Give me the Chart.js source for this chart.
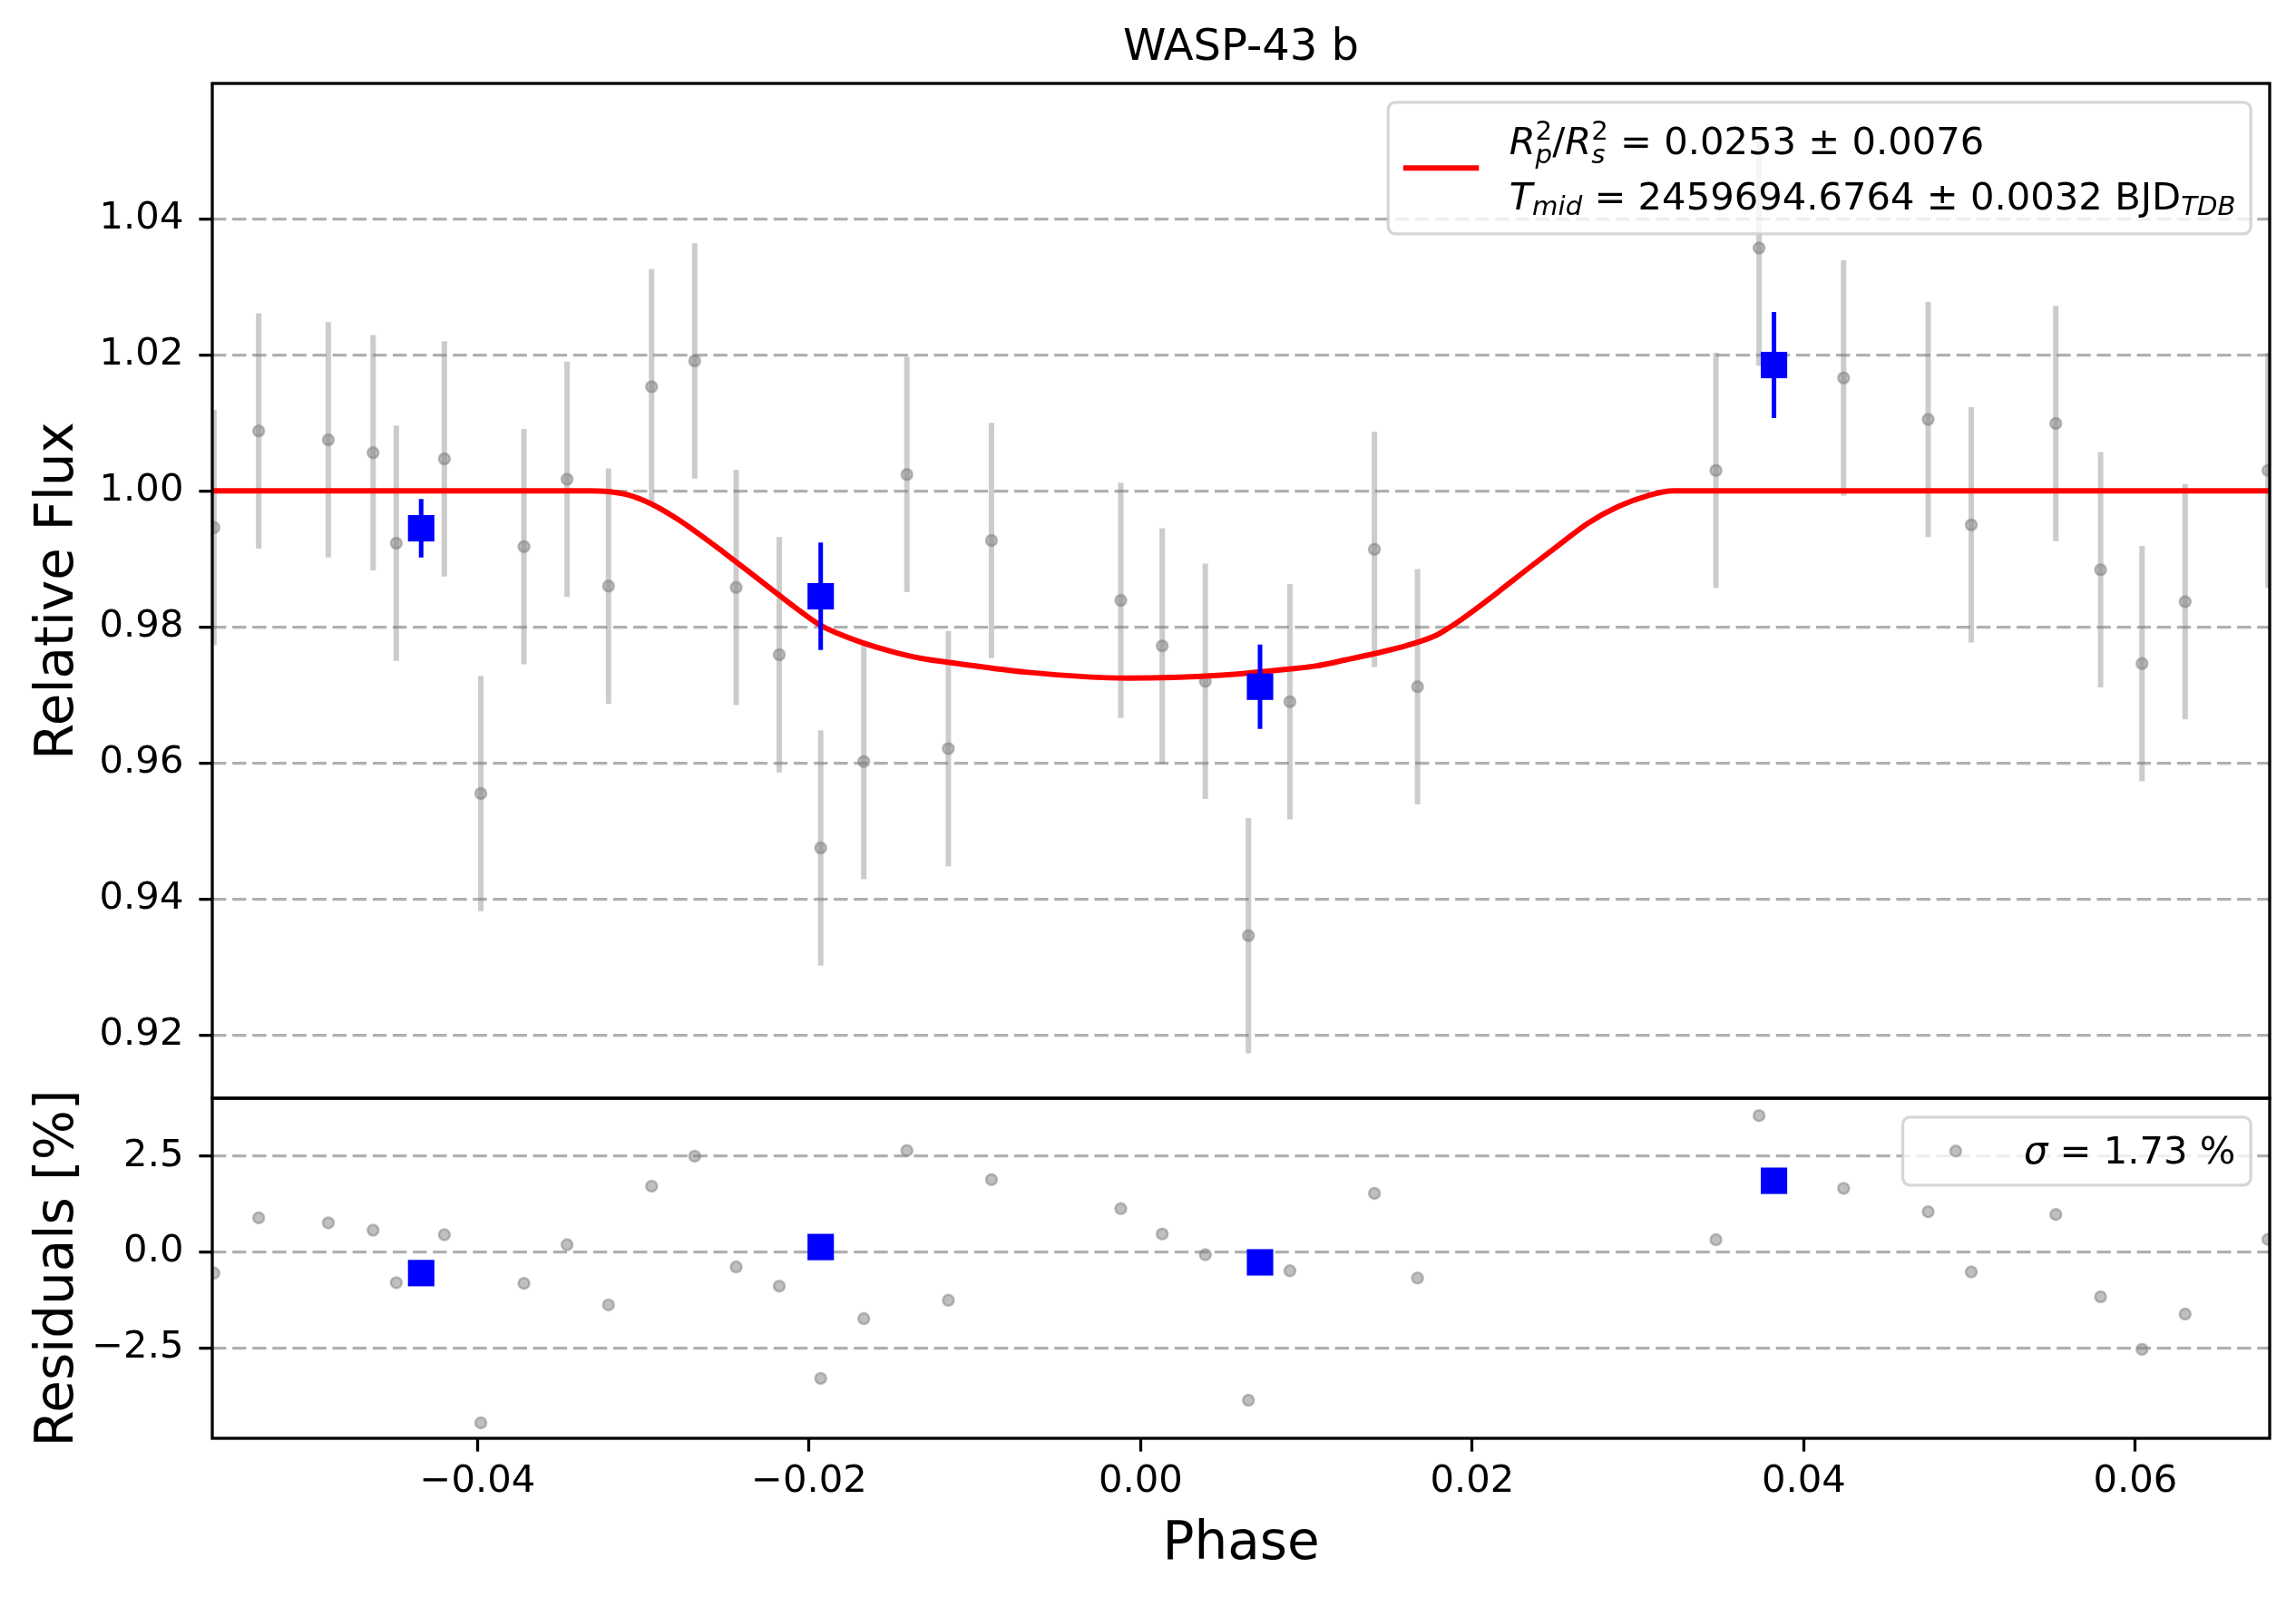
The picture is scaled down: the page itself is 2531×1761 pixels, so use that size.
<!DOCTYPE html>
<html>
<head>
<meta charset="utf-8">
<script src="https://cdn.jsdelivr.net/npm/chart.js@4.4.1/dist/chart.umd.min.js"></script>
<style>
  html, body { margin: 0; padding: 0; background: #fff; }
  #wrap { width: 2531px; height: 1761px; position: relative; }
</style>
</head>
<body>
<div id="wrap"><canvas id="lc"></canvas></div>
<script>
// unbinned points (phase, relative flux, error, residual in %)
const phase = [-0.0559, -0.0532, -0.0490, -0.0463, -0.0449, -0.0420, -0.0398, -0.0372, -0.0346, -0.0321,
  -0.0295, -0.0269, -0.0244, -0.0218, -0.0193, -0.0167, -0.0141, -0.0116, -0.0090, -0.0012,
  0.0013, 0.0039, 0.0065, 0.0090, 0.0141, 0.0167, 0.0347, 0.0373, 0.0424, 0.0475,
  0.0501, 0.0552, 0.0579, 0.0604, 0.0630, 0.0680];
const flux = [0.9946, 1.0088, 1.0075, 1.0056, 0.9923, 1.0047, 0.9555, 0.9918, 1.0017, 0.9860,
  1.0153, 1.0191, 0.9858, 0.9759, 0.9475, 0.9602, 1.0024, 0.9621, 0.9927, 0.9839,
  0.9772, 0.9720, 0.9346, 0.9690, 0.9914, 0.9712, 1.0030, 1.0357, 1.0166, 1.0105,
  0.9950, 1.0099, 0.9884, 0.9746, 0.9837, 1.0030];
const fluxErr = [0.0173, 0.0173, 0.0173, 0.0173, 0.0173, 0.0173, 0.0173, 0.0173, 0.0173, 0.0173,
  0.0173, 0.0173, 0.0173, 0.0173, 0.0173, 0.0173, 0.0173, 0.0173, 0.0173, 0.0173,
  0.0173, 0.0173, 0.0173, 0.0173, 0.0173, 0.0173, 0.0173, 0.0173, 0.0173, 0.0173,
  0.0173, 0.0173, 0.0173, 0.0173, 0.0173, 0.0173];
const residuals = [-0.55, 0.89, 0.76, 0.57, -0.80, 0.45, -4.46, -0.82, 0.19, -1.38,
  1.72, 2.50, -0.39, -0.89, -3.30, -1.74, 2.65, -1.26, 1.89, 1.13,
  0.47, -0.07, -3.87, -0.49, 1.53, -0.68, 0.32, 3.56, 1.66, 1.05,
  -0.52, 0.98, -1.17, -2.54, -1.62, 0.33];

// binned points
const binPhase = [-0.0434, -0.0193, 0.0072, 0.0382];
const binFlux = [0.9945, 0.9845, 0.9712, 1.0185];
const binErr = [0.0043, 0.0079, 0.0062, 0.0078];
const binResid = [-0.55, 0.13, -0.27, 1.86];

// transit model
const modelPhase = [-0.0560, -0.03322, -0.03213, -0.03103, -0.02957, -0.02812, -0.02666, -0.02519, -0.02374, -0.02228,
  -0.02082, -0.01936, -0.01826, -0.01680, -0.01498, -0.01315, -0.01133, -0.00693, -0.00074, 0.00486,
  0.00928, 0.01056, 0.01239, 0.01421, 0.01604, 0.01786, 0.01877, 0.01969, 0.02151, 0.02333,
  0.02516, 0.02698, 0.02881, 0.03063, 0.03209, 0.0681];
const modelFlux = [1.0, 1.0, 0.99991, 0.99947, 0.99813, 0.99613, 0.99369, 0.99103, 0.98833, 0.98556,
  0.98282, 0.98030, 0.97903, 0.97769, 0.97636, 0.97533, 0.97471, 0.97335, 0.97247, 0.97291,
  0.97388, 0.97425, 0.97516, 0.97613, 0.97724, 0.97880, 0.98013, 0.98169, 0.98503, 0.98850,
  0.99191, 0.99524, 0.99769, 0.99933, 1.0, 1.0];

// axes
const phaseTicks = [-0.04, -0.02, 0.00, 0.02, 0.04, 0.06];
const fluxTicks = [0.92, 0.94, 0.96, 0.98, 1.00, 1.02, 1.04];
const residTicks = [-2.5, 0.0, 2.5];

const titleText = 'WASP-43 b';
const depthLabel = ' = 0.0253 \u00b1 0.0076';
const tmidLabel = ' = 2459694.6764 \u00b1 0.0032 BJD';
const sigmaLabel = ' = 1.73 %';

const EM = 41.7;
const GRAY_FILL = 'rgba(128,128,128,0.5)';

function signed(v, d) {
    return (v < -1e-9 ? '\u2212' : '') + Math.abs(v).toFixed(d);
}

function errorSegments(xs, ys, es) {
    const pts = [];
    xs.forEach((x, i) => {
        pts.push({ x: x, y: ys[i] - es[i] }, { x: x, y: ys[i] + es[i] }, { x: x, y: null });
    });
    return pts;
}

function pairs(xs, ys) {
    return xs.map((x, i) => ({ x: x, y: ys[i] }));
}

// little mathtext-like layout: runs with italic / sup / sub
function runFont(r) {
    const size = r.script ? EM * 0.7 : EM;
    return (r.italic ? 'italic ' : '') + size + 'px "DejaVu Sans"';
}

function layoutRuns(ctx, runs, x0, base, draw) {
    let x = x0, prevStart = x0, prevEnd = x0;
    runs.forEach(r => {
        ctx.font = runFont(r);
        const w = ctx.measureText(r.text).width;
        const start = r.stack ? prevStart : x;
        let dy = 0;
        if (r.script === 'sup') dy = -0.37 * EM;
        if (r.script === 'sub') dy = r.deep ? 0.25 * EM : 0.15 * EM;
        if (draw) ctx.fillText(r.text, start, base + dy);
        if (r.stack) {
            x = Math.max(prevEnd, start + w);
        } else {
            prevStart = start;
            prevEnd = start + w;
            x = prevEnd;
        }
    });
    return x - x0;
}

function legendBox(ctx, left, top, w, h) {
    const r = 8;
    ctx.beginPath();
    ctx.moveTo(left + r, top);
    ctx.arcTo(left + w, top, left + w, top + h, r);
    ctx.arcTo(left + w, top + h, left, top + h, r);
    ctx.arcTo(left, top + h, left, top, r);
    ctx.arcTo(left, top, left + w, top, r);
    ctx.closePath();
    ctx.fillStyle = 'rgba(255,255,255,0.8)';
    ctx.fill();
    ctx.lineWidth = 3.3;
    ctx.strokeStyle = 'rgba(204,204,204,0.8)';
    ctx.stroke();
}

const line1 = [
    { text: 'R', italic: true },
    { text: '2', script: 'sup' },
    { text: 'p', italic: true, script: 'sub', stack: true, deep: true },
    { text: '/' },
    { text: 'R', italic: true },
    { text: '2', script: 'sup' },
    { text: 's', italic: true, script: 'sub', stack: true, deep: true },
    { text: depthLabel }
];
const line2 = [
    { text: 'T', italic: true },
    { text: 'mid', italic: true, script: 'sub' },
    { text: tmidLabel },
    { text: 'TDB', italic: true, script: 'sub' }
];
const sigmaLine = [
    { text: '\u03c3', italic: true },
    { text: sigmaLabel }
];

const framesAndLegends = {
    id: 'framesAndLegends',
    afterDatasetsDraw(chart) {
        const ctx = chart.ctx;
        const area = chart.chartArea;
        const top = chart.scales.yTop;
        const bot = chart.scales.yBot;
        const pad = 0.4 * EM, handle = 2 * EM, gap = 0.8 * EM, inset = 0.5 * EM;

        ctx.save();
        ctx.strokeStyle = '#000';
        ctx.lineWidth = 3.3;
        ctx.strokeRect(area.left, top.top, area.right - area.left, top.bottom - top.top);
        ctx.strokeRect(area.left, bot.top, area.right - area.left, bot.bottom - bot.top);

        // upper legend: model fit
        const tw = Math.max(layoutRuns(ctx, line1, 0, 0, false), layoutRuns(ctx, line2, 0, 0, false));
        const w1 = pad + handle + gap + tw + pad;
        const h1 = 145;
        const l1 = area.right - inset - w1;
        const t1 = top.top + inset;
        legendBox(ctx, l1, t1, w1, h1);
        ctx.strokeStyle = '#ff0000';
        ctx.lineWidth = 6;
        ctx.beginPath();
        ctx.moveTo(l1 + pad, t1 + h1 / 2);
        ctx.lineTo(l1 + pad + handle, t1 + h1 / 2);
        ctx.stroke();
        ctx.fillStyle = '#000';
        ctx.textBaseline = 'alphabetic';
        ctx.textAlign = 'left';
        layoutRuns(ctx, line1, l1 + pad + handle + gap, t1 + 57, true);
        layoutRuns(ctx, line2, l1 + pad + handle + gap, t1 + 118, true);

        // lower legend: scatter of residuals
        const sw = layoutRuns(ctx, sigmaLine, 0, 0, false);
        const w2 = pad + handle + gap + sw + pad;
        const h2 = 75;
        const l2 = area.right - inset - w2;
        const t2 = bot.top + inset;
        legendBox(ctx, l2, t2, w2, h2);
        ctx.beginPath();
        ctx.arc(l2 + pad + handle / 2, t2 + h2 / 2, 6, 0, Math.PI * 2);
        ctx.fillStyle = GRAY_FILL;
        ctx.fill();
        ctx.lineWidth = 2.5;
        ctx.strokeStyle = GRAY_FILL;
        ctx.stroke();
        ctx.fillStyle = '#000';
        layoutRuns(ctx, sigmaLine, l2 + pad + handle + gap, t2 + 51, true);
        ctx.restore();
    }
};

document.addEventListener('DOMContentLoaded', () => {
    Chart.defaults.font.family = "'DejaVu Sans', sans-serif";
    Chart.defaults.color = '#000';

    const tickFont = { size: EM };
    const labelFont = { size: 58 };

    new Chart(document.getElementById('lc'), {
        type: 'scatter',
        data: {
            datasets: [
                {
                    type: 'line', label: 'errors', data: errorSegments(phase, flux, fluxErr), yAxisID: 'yTop',
                    borderColor: 'rgba(128,128,128,0.4)', borderWidth: 6, pointRadius: 0, spanGaps: false, order: 5
                },
                {
                    label: 'data', data: pairs(phase, flux), yAxisID: 'yTop',
                    backgroundColor: GRAY_FILL, borderColor: GRAY_FILL, borderWidth: 2.5, pointRadius: 6, order: 4
                },
                {
                    type: 'line', label: 'model', data: pairs(modelPhase, modelFlux), yAxisID: 'yTop',
                    borderColor: '#ff0000', borderWidth: 6, pointRadius: 0, cubicInterpolationMode: 'monotone', order: 3
                },
                {
                    type: 'line', label: 'binned errors', data: errorSegments(binPhase, binFlux, binErr), yAxisID: 'yTop',
                    borderColor: '#0000ff', borderWidth: 5, pointRadius: 0, spanGaps: false, order: 2
                },
                {
                    label: 'binned', data: pairs(binPhase, binFlux), yAxisID: 'yTop',
                    pointStyle: 'rect', pointRadius: 20.6, backgroundColor: '#0000ff', borderWidth: 0, order: 1
                },
                {
                    label: 'residuals', data: pairs(phase, residuals), yAxisID: 'yBot',
                    backgroundColor: GRAY_FILL, borderColor: GRAY_FILL, borderWidth: 2.5, pointRadius: 6, order: 4
                },
                {
                    label: 'binned residuals', data: pairs(binPhase, binResid), yAxisID: 'yBot',
                    pointStyle: 'rect', pointRadius: 20.6, backgroundColor: '#0000ff', borderWidth: 0, order: 1
                }
            ]
        },
        options: {
            responsive: true,
            maintainAspectRatio: false,
            devicePixelRatio: 1,
            animation: false,
            events: [],
            layout: { padding: { left: 0, right: 29, top: 0, bottom: 0 } },
            plugins: {
                legend: { display: false },
                tooltip: { enabled: false },
                title: {
                    display: true, text: titleText, fullSize: false, color: '#000',
                    font: { size: 48, weight: 'normal' },
                    padding: { top: 25, bottom: 9.4 }
                }
            },
            scales: {
                x: {
                    type: 'linear', min: -0.056, max: 0.0681,
                    afterBuildTicks: s => { s.ticks = phaseTicks.map(v => ({ value: v })); },
                    afterFit: s => { s.height = 175; },
                    ticks: { font: tickFont, color: '#000', padding: 8.4, maxRotation: 0, autoSkip: false, callback: v => signed(v, 2) },
                    grid: { drawOnChartArea: false, tickLength: 14.6, tickWidth: 3.3, tickColor: '#000', tickBorderDash: [] },
                    border: { display: false },
                    title: { display: true, text: 'Phase', font: labelFont, color: '#000', padding: { top: 0, bottom: 22 } }
                },
                yTop: {
                    type: 'linear', position: 'left', stack: 'panels', stackWeight: 1119, weight: 2,
                    min: 0.9107, max: 1.0599,
                    afterBuildTicks: s => { s.ticks = fluxTicks.map(v => ({ value: v })); },
                    afterFit: s => { s.width = 234; },
                    ticks: { font: tickFont, color: '#000', padding: 17, autoSkip: false, callback: v => signed(v, 2) },
                    grid: { color: '#b0b0b0', lineWidth: 3.3, tickLength: 14.6, tickWidth: 3.3, tickColor: '#000', tickBorderDash: [] },
                    border: { display: false, dash: [15.4, 6.7] },
                    title: { display: true, text: 'Relative Flux', font: labelFont, color: '#000', padding: { top: 30, bottom: 0 } }
                },
                yBot: {
                    type: 'linear', position: 'left', stack: 'panels', stackWeight: 375, weight: 1,
                    min: -4.863, max: 4.015,
                    afterBuildTicks: s => { s.ticks = residTicks.map(v => ({ value: v })); },
                    afterFit: s => { s.width = 234; },
                    ticks: { font: tickFont, color: '#000', padding: 17, autoSkip: false, callback: v => signed(v, 1) },
                    grid: { color: '#b0b0b0', lineWidth: 3.3, tickLength: 14.6, tickWidth: 3.3, tickColor: '#000', tickBorderDash: [] },
                    border: { display: false, dash: [15.4, 6.7] },
                    title: { display: true, text: 'Residuals [%]', font: labelFont, color: '#000', padding: { top: 30, bottom: 0 } }
                }
            }
        },
        plugins: [framesAndLegends]
    });
});
</script>
</body>
</html>
